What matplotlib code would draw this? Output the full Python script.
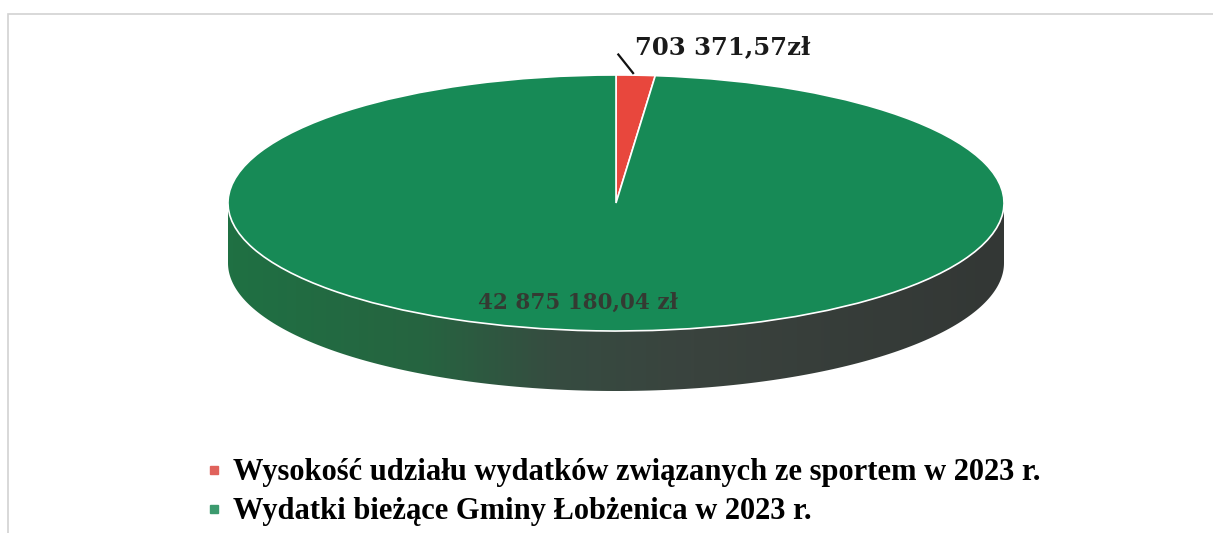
import numpy as np
import matplotlib
matplotlib.use('Agg')
import matplotlib.pyplot as plt
from matplotlib.patches import Polygon, Rectangle
from matplotlib.lines import Line2D
from matplotlib.colors import LinearSegmentedColormap

labels = ['Wysokość udziału wydatków związanych ze sportem w 2023 r.',
          'Wydatki bieżące Gminy Łobżenica w 2023 r.']
values = [703371.57, 42875180.04]
colors = ['#e8473d', '#178a56']


def pl_money(v):
    return f'{v:,.2f}'.replace(',', ' ').replace('.', ',')


W, H = 1213, 533
fig = plt.figure(figsize=(W / 100, H / 100), dpi=100)
ax = fig.add_axes([0, 0, 1, 1])

# ellipse geometry in pixels
cx, cy = 616, 203
rx, ry = 388, 128
depth = 60 / ry

# side of the "3d" pie: gradient clipped to the rim band
t = np.linspace(np.pi, 2 * np.pi, 200)
top = np.column_stack([np.cos(t), np.sin(t)])
bot = np.column_stack([np.cos(t[::-1]), np.sin(t[::-1]) - depth])
side = Polygon(np.vstack([top, bot]), closed=True, facecolor='none', edgecolor='none')
ax.add_patch(side)
cmap = LinearSegmentedColormap.from_list(
    'rim', [(0, '#1f7043'), (0.25, '#266440'), (0.42, '#364c41'), (0.6, '#3a433e'), (1, '#333735')])
grad = np.linspace(0, 1, 256).reshape(1, -1)
im = ax.imshow(grad, cmap=cmap, aspect='auto', extent=(-1, 1, -1 - depth, 0),
               zorder=1, interpolation='bilinear')
im.set_clip_path(side)

wedges, _ = ax.pie(values, colors=colors, startangle=90, counterclock=False,
                   radius=1, wedgeprops=dict(edgecolor='white', linewidth=1.2))
for w in wedges:
    w.set_zorder(3)

ax.set_aspect('auto')
ax.set_xlim(-cx / rx, (W - cx) / rx)
ax.set_ylim(-(H - cy) / ry, cy / ry)
ax.axis('off')

# value labels
ax.text(0.05, 1.22, pl_money(values[0]) + 'zł', fontsize=17.5, fontweight='bold',
        family='DejaVu Serif', color='#1a1a1a', va='center', ha='left', zorder=5)
ax.plot([0.044, 0.006], [1.015, 1.16], color='#111111', lw=1.6, zorder=5)
ax.text(-0.098, -0.78, pl_money(values[1]) + ' zł', fontsize=15.5, fontweight='bold',
        family='DejaVu Serif', color='#3a2c2c', alpha=0.85, ha='center', va='center',
        zorder=5)

# faint outer frame
fig.add_artist(Rectangle((8 / W, -0.1), 1.1, 1 - 14 / H + 0.1, transform=fig.transFigure,
                         facecolor='none', edgecolor='#d2d2d2', lw=1.2))

handles = [Line2D([0], [0], marker='s', ls='none', markersize=6,
                  markerfacecolor=c, markeredgecolor=c) for c in ['#e0625c', '#3c9a6e']]
fig.legend(handles, labels, loc='upper left', bbox_to_anchor=(190 / W, 1 - 443 / H),
           frameon=False, handlelength=0.6, handletextpad=0.3, labelspacing=0.33,
           borderpad=0, prop=dict(family='Liberation Serif', weight='bold', size=22))

fig.savefig('out.png', dpi=100)
